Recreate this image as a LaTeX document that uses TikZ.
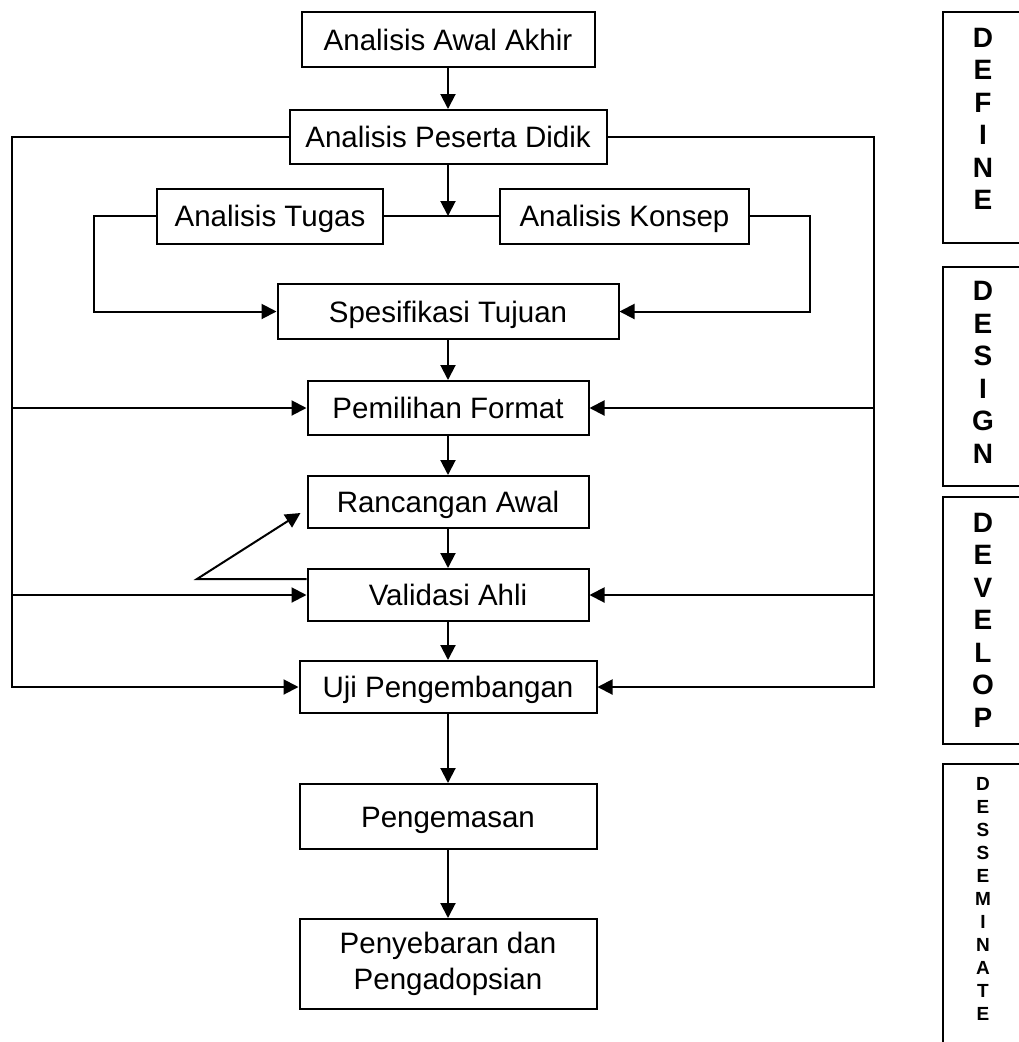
\documentclass[tikz,border=0pt]{standalone}
\usepackage{fontspec}
\setmainfont{Liberation Sans}
\usetikzlibrary{arrows.meta}

\begin{document}
\begin{tikzpicture}[x=1pt,y=-1pt,>={Triangle[length=15pt,width=15pt]},line width=2pt,
  box/.style 2 args={draw,minimum width=#1,minimum height=#2,inner sep=0pt,align=center,font=\fontsize{29.5}{36}\selectfont},
  oneline/.style={text height=21.5pt,text depth=0pt},
  phase/.style={draw,minimum width=82,minimum height=#1,inner sep=0pt},
  letters/.style={align=center,inner sep=0pt,font=\bfseries\fontsize{28}{32.5}\selectfont}]
\useasboundingbox (0,0) rectangle (1019,1042);
\clip (0,0) rectangle (1019,1042);
\node[box={293}{55},oneline] (awal) at (448,39.5) {Analisis Awal Akhir};
\node[box={317}{54},oneline] (peserta) at (448,137) {Analisis Peserta Didik};
\node[box={226}{55},oneline] (tugas) at (270,216) {Analisis Tugas};
\node[box={249}{55},oneline] (konsep) at (624.5,216) {Analisis Konsep};
\node[box={341}{55},oneline] (spes) at (448,311.5) {Spesifikasi Tujuan};
\node[box={281}{54},oneline] (format) at (448,408) {Pemilihan Format};
\node[box={281}{52},oneline] (rancangan) at (448,502) {Rancangan Awal};
\node[box={281}{52},oneline] (validasi) at (448,595) {Validasi Ahli};
\node[box={297}{52},oneline] (uji) at (448,687) {Uji Pengembangan};
\node[box={297}{65},oneline] (kemas) at (448,816.5) {Pengemasan};
\node[box={297}{90}] (sebar) at (448,964) {Penyebaran dan\\Pengadopsian};
% fase
\node[phase=231] (define) at (984,127.5) {};
\node[phase=219] (design) at (984,376.5) {};
\node[phase=247] (develop) at (984,620.5) {};
\node[phase=296] (dessem) at (984,912) {};
\node[letters] (definetxt) at (983,119) {D\\E\\F\\I\\N\\E};
\node[letters] (designtxt) at (983,372.5) {D\\E\\S\\I\\G\\N};
\node[letters] (developtxt) at (983,620) {D\\E\\V\\E\\L\\O\\P};
\node[letters,font=\bfseries\fontsize{19}{23}\selectfont] (dessemtxt) at (983,899) {D\\E\\S\\S\\E\\M\\I\\N\\A\\T\\E};
\coordinate (jn) at (448,216);
\coordinate (lbus) at (12,137);
\coordinate (rbus) at (874,137);
\coordinate (fb) at (197,579);
\path[->] (awal) edge (peserta);
\path[->] (peserta) edge (jn);
\path[-] (tugas) edge (konsep);
\draw[->] (tugas.west) -- ++(-62,0) |- (spes.west);
\draw[->] (konsep.east) -- ++(60,0) |- (spes.east);
\path[->] (spes) edge (format);
\path[->] (format) edge (rancangan);
\path[->] (rancangan) edge (validasi);
\path[->] (validasi) edge (uji);
\path[->] (uji) edge (kemas);
\path[->] (kemas) edge (sebar);
\draw[->] (peserta.west) -- (lbus) -- (lbus |- uji.west) -- (uji.west);
\draw[->] (peserta.east) -- (rbus) -- (rbus |- uji.east) -- (uji.east);
\draw[->] (lbus |- format.west) -- (format.west);
\draw[->] (lbus |- validasi.west) -- (validasi.west);
\draw[->] (rbus |- format.east) -- (format.east);
\draw[->] (rbus |- validasi.east) -- (validasi.east);
\draw[->] ([yshift=16pt]validasi.west) -- (fb) -- ([xshift=-6pt,yshift=-11pt]rancangan.west);
\end{tikzpicture}
\end{document}
